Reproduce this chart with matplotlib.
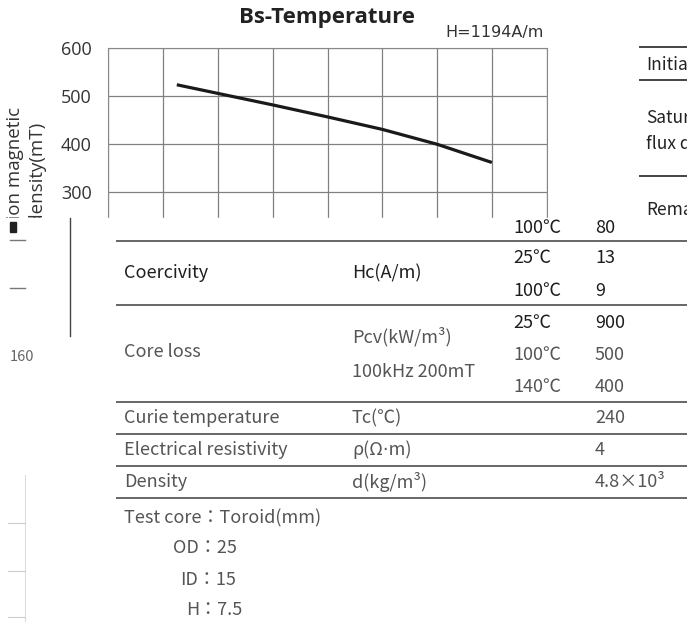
import matplotlib.pyplot as plt
from matplotlib.patches import Rectangle

# Bs vs temperature
temp_c = [25, 40, 60, 80, 100, 120, 140]
bs_mt = [524, 506, 482, 457, 431, 400, 362]
x_ticks = [0, 20, 40, 60, 80, 100, 120, 140, 160]
y_ticks = [200, 300, 400, 500, 600]

# table below the chart
rem_cond, rem_val = "100℃", "80"
coer_cond = ["25℃", "100℃"]
coer_vals = ["13", "9"]
loss_cond = ["25℃", "100℃", "140℃"]
loss_vals = ["900", "500", "400"]
simple_rows = [("Curie temperature", "Tc(℃)", "240"),
               ("Electrical resistivity", "ρ(Ω⋅m)", "4"),
               ("Density", "d(kg/m³)", "4.8×10³")]
core_dims = [("OD", "25"), ("ID", "15"), ("H", "7.5")]
side_labels = ["Initia", "Satur", "flux d", "Rema"]

W, H = 687, 622
fig = plt.figure(figsize=(W / 100, H / 100), dpi=100)

def fx(px):
    return px / W

def fy(py):
    return 1 - py / H

# chart axes
left, right, top, bot = 108.3, 546.7, 48.3, 240.2
ax = fig.add_axes([fx(left), fy(bot), fx(right - left), (bot - top) / H])
ax.plot(temp_c, bs_mt, color='#1a1a1a', lw=2.3, solid_capstyle='butt', zorder=3)
ax.set_xlim(0, 160)
ax.set_ylim(200, 600)
ax.set_xticks(x_ticks)
ax.set_yticks(y_ticks)
ax.grid(True, color='#808080', lw=0.9)
ax.tick_params(length=0, labelbottom=False, labelsize=13, labelcolor='#333333', pad=12)
for lab in ax.get_yticklabels():
    lab.set_fontfamily('Open Sans')
for s in ax.spines.values():
    s.set_color('#888888')

fig.text(fx(327), fy(18), "Bs-Temperature", ha='center', va='center',
         fontsize=16, fontweight='bold', family='Open Sans', color='#222222')
fig.text(fx(445), fy(33), "H=1194A/m", ha='left', va='center',
         fontsize=11.5, family='DejaVu Sans', color='#333333')
fig.text(fx(15), fy(107), "Saturation magnetic", rotation=90, ha='center', va='top',
         fontsize=13.5, family='Open Sans', color='#333333')
fig.text(fx(38), fy(123), "flux density(mT)", rotation=90, ha='center', va='top',
         fontsize=13.5, family='Open Sans', color='#333333')

# overlay in pixel coordinates
ov = fig.add_axes([0, 0, 1, 1], zorder=5)
ov.set_xlim(0, W)
ov.set_ylim(H, 0)
ov.axis('off')
ov.patch.set_visible(False)
ov.add_patch(Rectangle((0, 218), W, H - 218, color='white', zorder=1))

fam = ['Noto Sans CJK TC', 'DejaVu Sans']
dark = '#1e1e1e'
grey = '#555555'
rule = '#666666'

def txt(x, y, s, c=grey, size=13, ha='left'):
    ov.text(x, y, s, ha=ha, va='center', fontsize=size, color=c, family=fam, zorder=3)

def hline(y, x0=117, x1=W):
    ov.plot([x0, x1], [y, y], color=rule, lw=1.4, zorder=2)

col_name, col_sym, col_cond, col_val = 124, 352, 513, 595

# remanence (last line of upper block)
txt(col_cond, 228, rem_cond, dark)
txt(col_val, 228, rem_val, dark)
hline(241)

# coercivity
txt(col_name, 273, "Coercivity", dark)
txt(col_sym, 273, "Hc(A/m)", dark)
for y, c, v in zip([258, 291], coer_cond, coer_vals):
    txt(col_cond, y, c, dark)
    txt(col_val, y, v, dark)
hline(305)

# core loss
txt(col_name, 352, "Core loss")
txt(col_sym, 337, "Pcv(kW/m³)")
txt(col_sym, 372, "100kHz 200mT")
for i, (y, c, v) in enumerate(zip([323, 355, 387], loss_cond, loss_vals)):
    col = dark if i == 0 else grey
    txt(col_cond, y, c, col)
    txt(col_val, y, v, col)
hline(402)

row_y = [418, 450, 482]
for y, (name, sym, val) in zip(row_y, simple_rows):
    txt(col_name, y, name)
    txt(col_sym, y, sym)
    txt(col_val, y, val)
    hline(y + 16)

txt(col_name, 518, "Test core：Toroid(mm)")
for y, x, (k, v) in zip([548, 580, 610], [173, 180, 186], core_dims):
    txt(x, y, f"{k}：{v}")

# fragments of the neighbouring table (top right)
for y in [47, 80, 176]:
    ov.plot([640, W], [y, y], color='#444444', lw=1.4, zorder=2)
for y, s in zip([65, 118, 144, 210], side_labels):
    txt(646, y, s, '#222222', 12.5)

# leftovers of another figure at the left edge
ov.plot([70, 70], [218, 336], color='#444444', lw=1.0, zorder=2)
ov.add_patch(Rectangle((10, 222), 6, 10, color='#222222', zorder=2))
for y in [240, 288]:
    ov.plot([10, 25], [y, y], color='#777777', lw=1.0, zorder=2)
txt(10, 357, "160", '#666666', 10.5)
ov.plot([25, 25], [475, H], color='#dddddd', lw=0.8, zorder=2)
for y in [523, 571, 617]:
    ov.plot([8, 25], [y, y], color='#cccccc', lw=0.8, zorder=2)

fig.savefig('out.png', dpi=100)
